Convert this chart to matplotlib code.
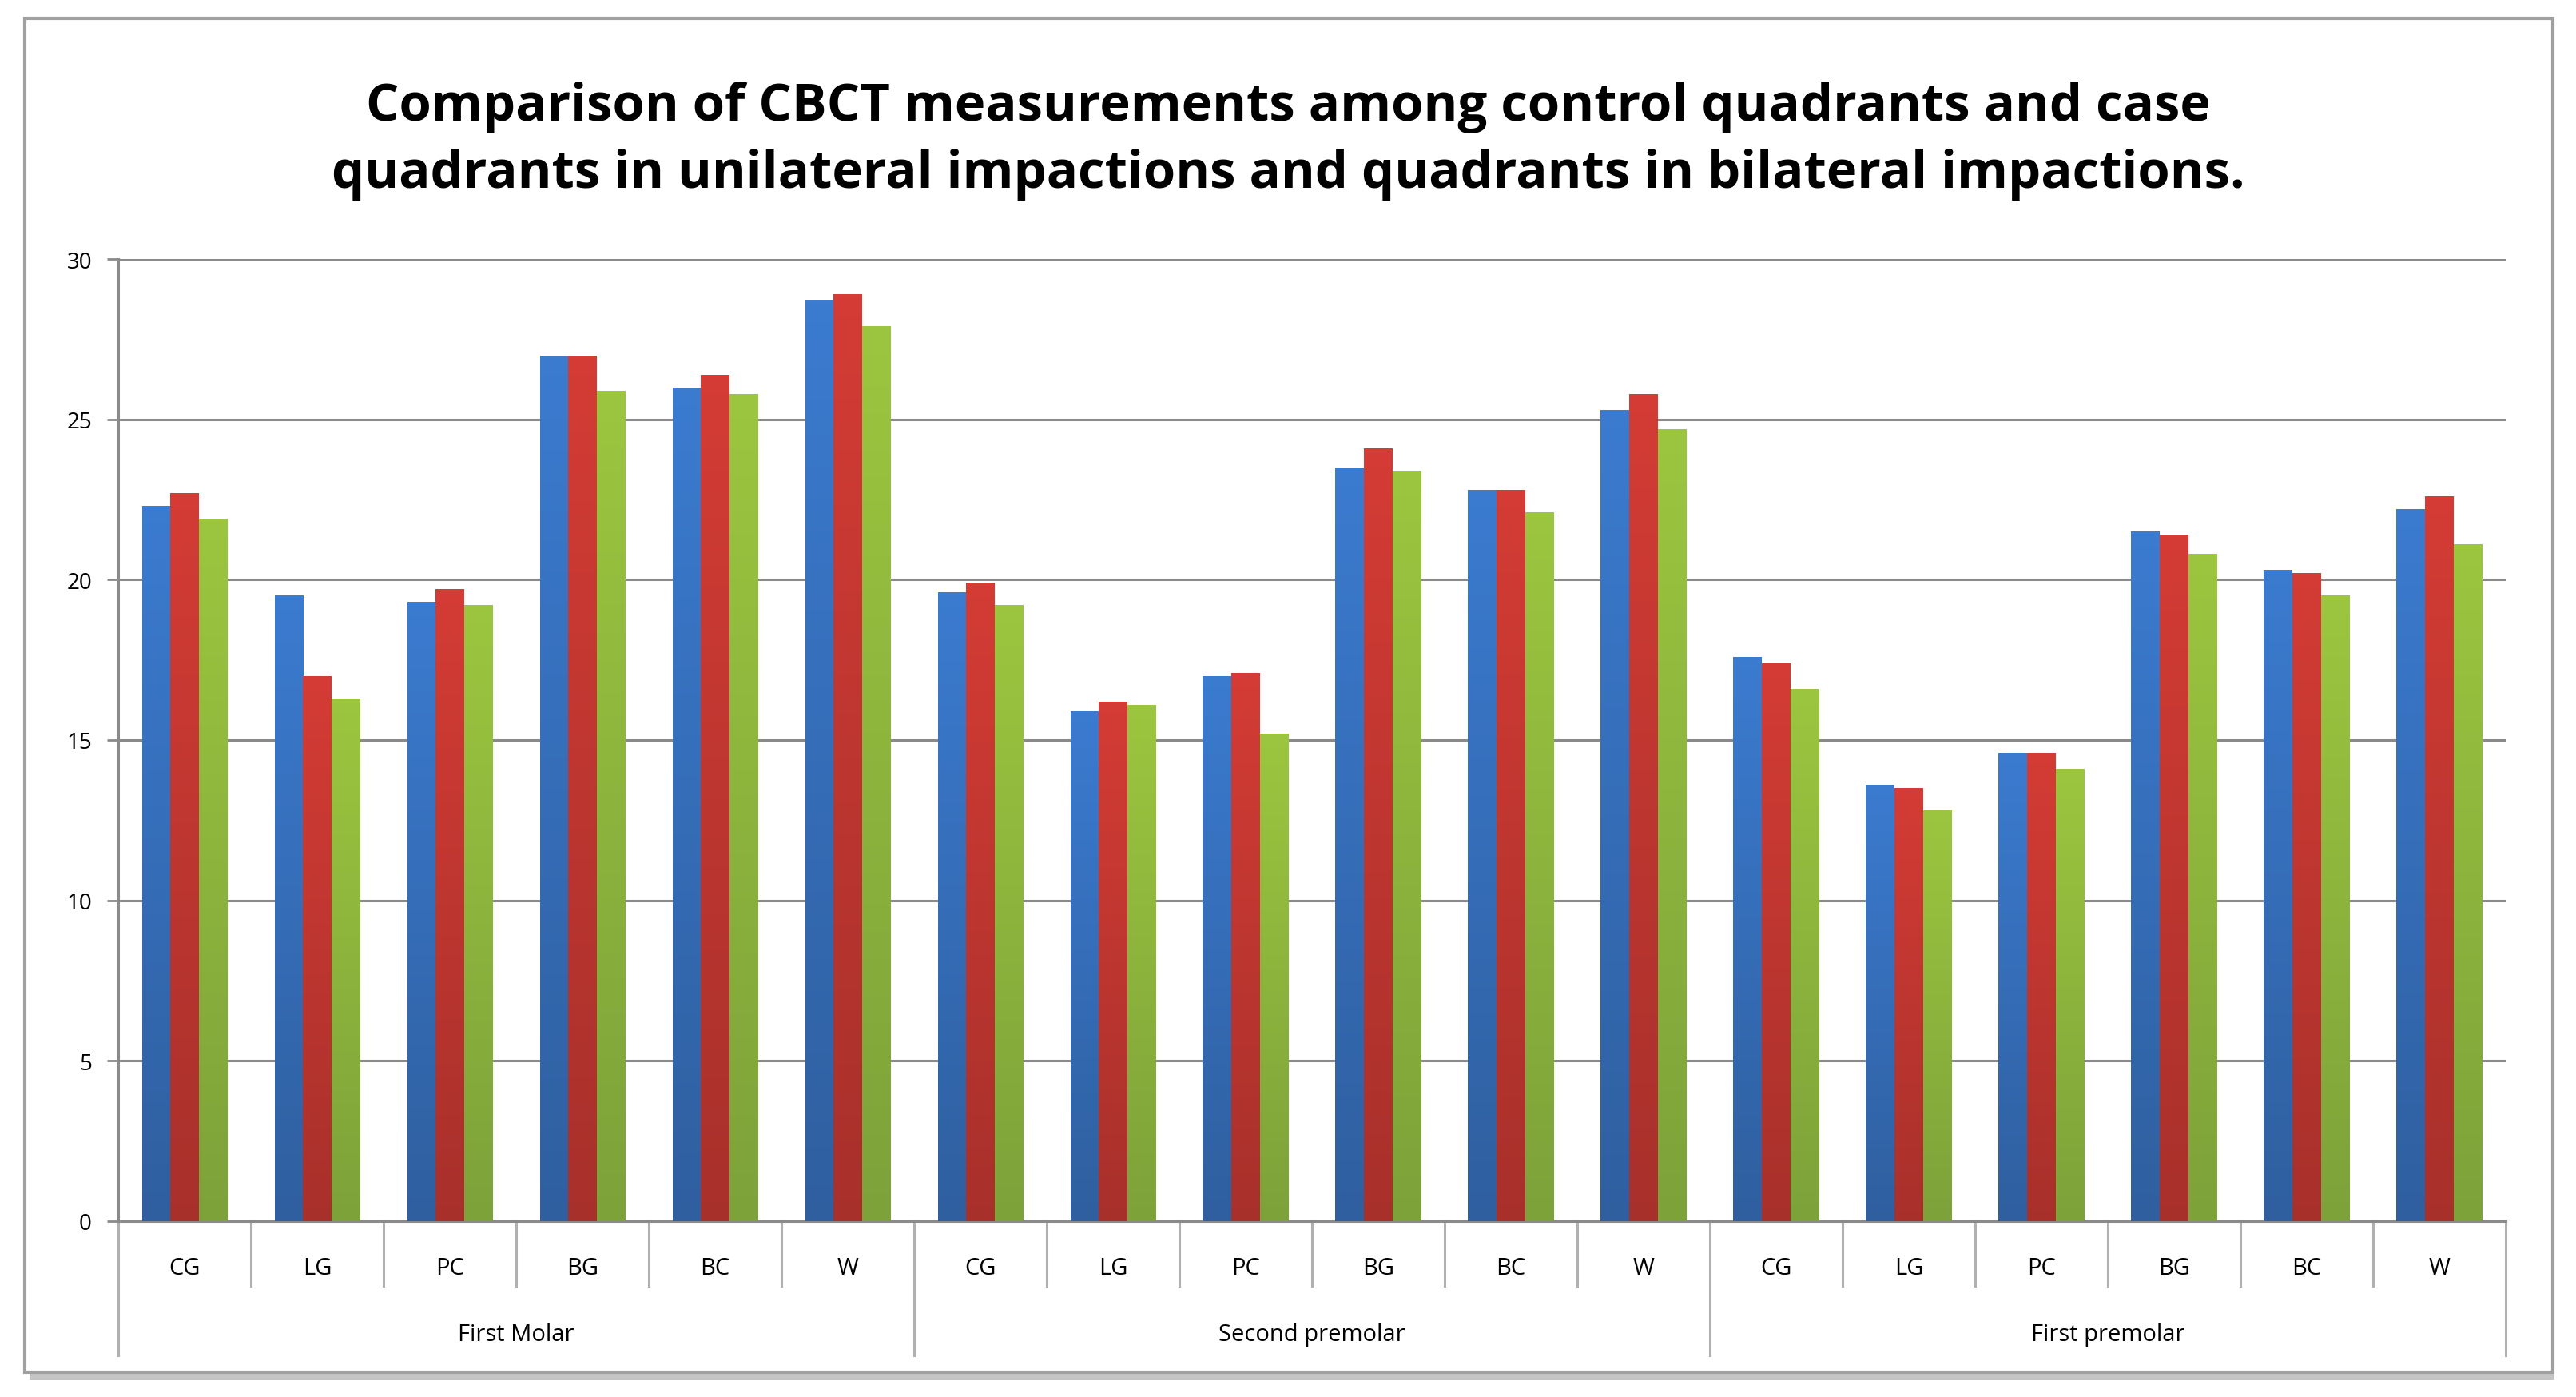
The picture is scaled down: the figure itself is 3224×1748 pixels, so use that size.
import numpy as np
import matplotlib
matplotlib.use("Agg")
import matplotlib.pyplot as plt
from matplotlib.colors import LinearSegmentedColormap
from matplotlib.patches import Rectangle
import matplotlib.transforms as mtransforms

# data
groups = ["First Molar", "Second premolar", "First premolar"]
measures = ["CG", "LG", "PC", "BG", "BC", "W"]

series_1 = [22.3, 19.5, 19.3, 27.0, 26.0, 28.7,
            19.6, 15.9, 17.0, 23.5, 22.8, 25.3,
            17.6, 13.6, 14.6, 21.5, 20.3, 22.2]
series_2 = [22.7, 17.0, 19.7, 27.0, 26.4, 28.9,
            19.9, 16.2, 17.1, 24.1, 22.8, 25.8,
            17.4, 13.5, 14.6, 21.4, 20.2, 22.6]
series_3 = [21.9, 16.3, 19.2, 25.9, 25.8, 27.9,
            19.2, 16.1, 15.2, 23.4, 22.1, 24.7,
            16.6, 12.8, 14.1, 20.8, 19.5, 21.1]

y_ticks = [0, 5, 10, 15, 20, 25, 30]

# light (top) -> dark (bottom) colours per series
shades = [("#3b7bd0", "#2f5f9f"), ("#d43c35", "#a8302b"), ("#9cc63f", "#7da23a")]

plt.rcParams['font.family'] = ['Open Sans', 'DejaVu Sans']

fig = plt.figure(figsize=(32.24, 17.49), dpi=100)
ax = fig.add_axes([0.046, 0.126, 0.9266, 0.688])

n = len(groups) * len(measures)
x = np.arange(n)
w = 0.215
all_series = [series_1, series_2, series_3]

for k, vals in enumerate(all_series):
    bars = ax.bar(x + (k - 1) * w, vals, width=w, color=shades[k][0], zorder=3)
    cmap = LinearSegmentedColormap.from_list("g%d" % k, [shades[k][1], shades[k][0]])
    grad = np.linspace(0, 1, 256).reshape(-1, 1)
    for b in bars:
        x0 = b.get_x()
        ax.imshow(grad, cmap=cmap, origin="lower", aspect="auto", zorder=4,
                  extent=[x0, x0 + b.get_width(), 0, b.get_height()])

ax.set_xlim(-0.5, n - 0.5)
ax.set_ylim(0, 30)
ax.set_yticks(y_ticks)
ax.set_yticklabels([str(t) for t in y_ticks], fontsize=20)
ax.yaxis.grid(True, color="#8a8a8a", linewidth=2.2, zorder=0)
ax.set_axisbelow(True)
ax.tick_params(axis="y", length=10, width=2, color="#8a8a8a", pad=14)

for s in ["top", "right"]:
    ax.spines[s].set_visible(False)
ax.spines["left"].set_color("#8a8a8a")
ax.spines["left"].set_linewidth(2.2)
ax.spines["bottom"].set_color("#8a8a8a")
ax.spines["bottom"].set_linewidth(2.2)

ax.set_xticks(x)
ax.set_xticklabels(measures * len(groups), fontsize=21)
ax.tick_params(axis="x", length=0, pad=32)

trans = mtransforms.blended_transform_factory(ax.transData, ax.transAxes)
for i in range(n + 1):
    xb = i - 0.5
    low = -0.14 if i % len(measures) == 0 else -0.068
    ax.plot([xb, xb], [0, low], transform=trans, color="#b0b0b0",
            linewidth=2.2, clip_on=False)

for g, name in enumerate(groups):
    c = g * len(measures) + (len(measures) - 1) / 2
    ax.text(c, -0.118, name, transform=trans, ha="center", va="center", fontsize=21)

fig.text(0.5, 0.899,
         "Comparison of CBCT measurements among control quadrants and case\n"
         "quadrants in unilateral impactions and quadrants in bilateral impactions.",
         ha="center", va="center", fontsize=47, fontweight="bold", linespacing=1.38)

# outer chart frame with shadow
fig.patches.append(Rectangle((0.0115, 0.012), 0.98, 0.974, transform=fig.transFigure,
                             facecolor="#c4c4c4", edgecolor="none", zorder=-2))
fig.patches.append(Rectangle((0.0096, 0.018), 0.9814, 0.968, transform=fig.transFigure,
                             facecolor="white", edgecolor="#a0a0a0", linewidth=3, zorder=-1))

fig.savefig("out.png", dpi=100)
